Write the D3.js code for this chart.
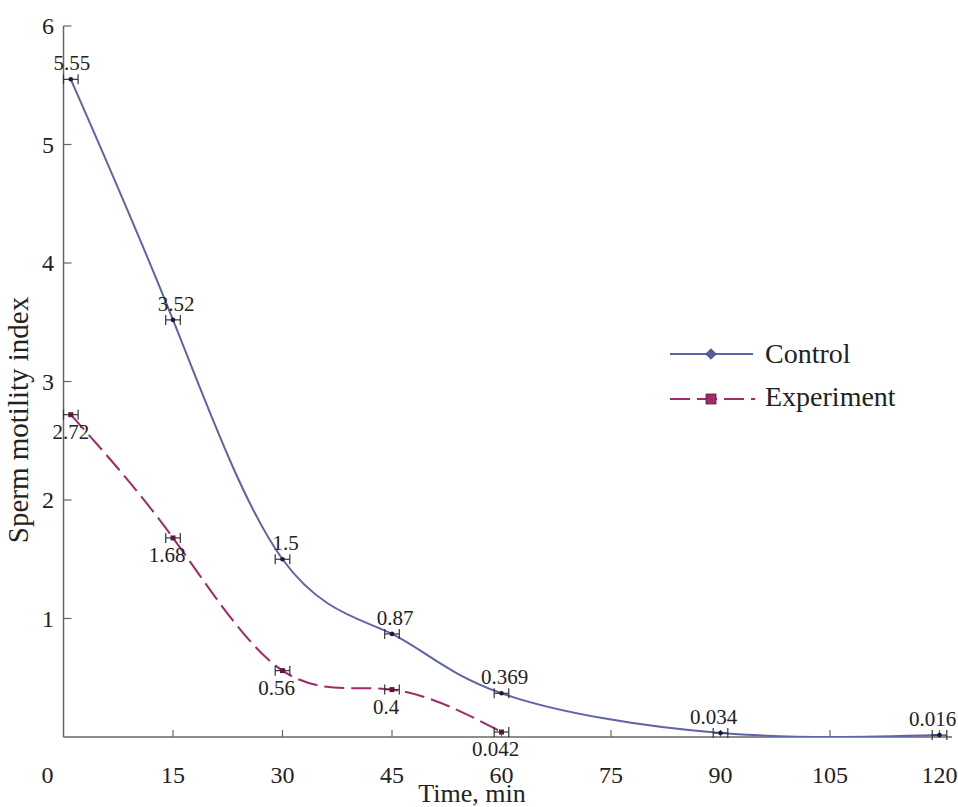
<!DOCTYPE html>
<html>
<head>
<meta charset="utf-8">
<script src="https://cdn.jsdelivr.net/npm/d3@7"></script>
<style>
  html, body { margin: 0; padding: 0; background: #fff; }
  svg { display: block; }
  text { font-family: "Liberation Serif", "Times New Roman", serif; fill: #222; }
</style>
</head>
<body>
<svg id="chart" width="958" height="807"></svg>
<script>
// ---- data ----
const xTicks = [0, 15, 30, 45, 60, 75, 90, 105, 120];
const yTicks = [1, 2, 3, 4, 5, 6];
const controlTime = [1, 15, 30, 45, 60, 90, 120];
const controlValue = [5.55, 3.52, 1.5, 0.87, 0.369, 0.034, 0.016];
const controlLabel = ["5.55", "3.52", "1.5", "0.87", "0.369", "0.034", "0.016"];
const experimentTime = [1, 15, 30, 45, 60];
const experimentValue = [2.72, 1.68, 0.56, 0.4, 0.042];
const experimentLabel = ["2.72", "1.68", "0.56", "0.4", "0.042"];
const timeError = 1; // horizontal error bar half-width (min)
const seriesNames = ["Control", "Experiment"];

// ---- layout ----
const svg = d3.select("#chart");
const x = d3.scaleLinear().domain([0, 120]).range([63.5, 939.5]);
const y = d3.scaleLinear().domain([0, 6]).range([737, 26]);
const cControl = "#5f63a8";
const cExp = "#a02a6a";
const axisColor = "#666";

// clip
svg.append("defs").append("clipPath").attr("id", "plotclip")
  .append("rect").attr("x", x(0)).attr("y", 0).attr("width", 958 - x(0)).attr("height", y(0));

// axes
const gAxes = svg.append("g");
gAxes.append("line").attr("x1", x(0)).attr("x2", 952).attr("y1", y(0)).attr("y2", y(0))
  .attr("stroke", axisColor).attr("stroke-width", 1.5);
gAxes.append("line").attr("x1", x(0)).attr("x2", x(0)).attr("y1", y(0)).attr("y2", y(6))
  .attr("stroke", axisColor).attr("stroke-width", 1.5);
gAxes.selectAll(".xt").data(xTicks.filter(d => d > 0)).enter().append("line").attr("class", "xt")
  .attr("x1", d => x(d)).attr("x2", d => x(d)).attr("y1", y(0)).attr("y2", y(0) - 7)
  .attr("stroke", axisColor).attr("stroke-width", 1.2);
gAxes.selectAll(".yt").data(yTicks).enter().append("line").attr("class", "yt")
  .attr("x1", x(0)).attr("x2", x(0) + 8).attr("y1", d => y(d)).attr("y2", d => y(d))
  .attr("stroke", axisColor).attr("stroke-width", 1.2);
gAxes.selectAll(".xl").data(xTicks).enter().append("text").attr("class", "xl")
  .attr("x", d => d === 0 ? x(d) - 16 : x(d)).attr("y", 783)
  .attr("text-anchor", "middle").attr("font-size", 24).text(d => d);
gAxes.selectAll(".yl").data(yTicks).enter().append("text").attr("class", "yl")
  .attr("x", 54).attr("y", d => y(d) + 8)
  .attr("text-anchor", "end").attr("font-size", 24).text(d => d);
svg.append("text").attr("x", 472).attr("y", 802).attr("text-anchor", "middle")
  .attr("font-size", 26).text("Time, min");
svg.append("text").attr("transform", "translate(28,420) rotate(-90)")
  .attr("text-anchor", "middle").attr("font-size", 29).text("Sperm motility index");

// series
const control = controlTime.map((t, i) => ({ t, v: controlValue[i], lab: controlLabel[i] }));
const experiment = experimentTime.map((t, i) => ({ t, v: experimentValue[i], lab: experimentLabel[i] }));

const line = d3.line().x(d => x(d.t)).y(d => y(d.v)).curve(d3.curveNatural);
const gPlot = svg.append("g").attr("clip-path", "url(#plotclip)");
gPlot.append("path").datum(control).attr("d", line).attr("fill", "none")
  .attr("stroke", cControl).attr("stroke-width", 2);
gPlot.append("path").datum(experiment).attr("d", line).attr("fill", "none")
  .attr("stroke", cExp).attr("stroke-width", 2).attr("stroke-dasharray", "20,7");

// error bars and points
function drawPoints(data, shape) {
  const g = svg.append("g");
  g.selectAll(".eb").data(data).enter().append("line").attr("class", "eb")
    .attr("x1", d => x(d.t - timeError)).attr("x2", d => x(d.t + timeError))
    .attr("y1", d => y(d.v)).attr("y2", d => y(d.v)).attr("stroke", "#333").attr("stroke-width", 1.2);
  [-1, 1].forEach((s, k) => {
    g.selectAll(".cap" + k).data(data).enter().append("line").attr("class", "cap" + k)
      .attr("x1", d => x(d.t + s * timeError)).attr("x2", d => x(d.t + s * timeError))
      .attr("y1", d => y(d.v) - 5).attr("y2", d => y(d.v) + 5)
      .attr("stroke", "#333").attr("stroke-width", 1.2);
  });
  if (shape === "dot") {
    g.selectAll(".pt").data(data).enter().append("circle").attr("class", "pt")
      .attr("cx", d => x(d.t)).attr("cy", d => y(d.v)).attr("r", 2.3).attr("fill", "#1a1a3a");
  } else {
    g.selectAll(".pt").data(data).enter().append("rect").attr("class", "pt")
      .attr("x", d => x(d.t) - 2.5).attr("y", d => y(d.v) - 2.5).attr("width", 5).attr("height", 5)
      .attr("fill", "#5a1a40");
  }
}
drawPoints(control, "dot");
drawPoints(experiment, "square");

// value labels
const gLab = svg.append("g").attr("font-size", 21);
gLab.selectAll(".cl").data(control).enter().append("text").attr("class", "cl")
  .attr("x", (d, i) => x(d.t) + (i === 0 ? 1 : i >= 5 ? -7 : 3))
  .attr("y", d => y(d.v) - 9).attr("text-anchor", "middle").text(d => d.lab);
gLab.selectAll(".el").data(experiment).enter().append("text").attr("class", "el")
  .attr("x", (d, i) => x(d.t) + (i === 0 ? 0 : -6))
  .attr("y", d => y(d.v) + 24).attr("text-anchor", "middle").text(d => d.lab);

// legend
const leg = svg.append("g");
leg.append("line").attr("x1", 670).attr("x2", 753).attr("y1", 354).attr("y2", 354)
  .attr("stroke", cControl).attr("stroke-width", 2);
leg.append("path").attr("d", d3.symbol(d3.symbolDiamond2, 70)())
  .attr("transform", "translate(711,354)").attr("fill", "#5a5b9c").attr("stroke", "#3a3a70").attr("stroke-width", 0.8);
leg.append("text").attr("x", 765).attr("y", 363).attr("font-size", 28).text(seriesNames[0]);
leg.append("line").attr("x1", 670).attr("x2", 755).attr("y1", 399).attr("y2", 399)
  .attr("stroke", cExp).attr("stroke-width", 2).attr("stroke-dasharray", "20,7");
leg.append("rect").attr("x", 706).attr("y", 394).attr("width", 10).attr("height", 10)
  .attr("fill", "#9b2d6b").attr("stroke", "#5a1a40").attr("stroke-width", 0.8);
leg.append("text").attr("x", 765).attr("y", 406).attr("font-size", 28).text(seriesNames[1]);
</script>
</body>
</html>
